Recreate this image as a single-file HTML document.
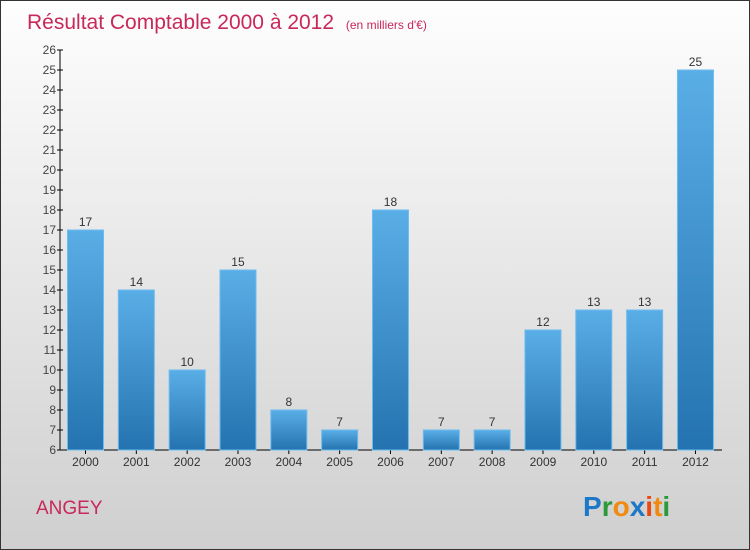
<!DOCTYPE html>
<html><head><meta charset="utf-8"><style>
body{margin:0;width:750px;height:550px;overflow:hidden;font-family:"Liberation Sans",sans-serif}
svg{display:block}
</style></head><body>
<svg id="chart" width="750" height="550" xmlns="http://www.w3.org/2000/svg">
<defs>
<linearGradient id="bg" x1="0" y1="0" x2="0" y2="1"><stop offset="0" stop-color="#fefefe"/><stop offset="1" stop-color="#cfcfcf"/></linearGradient>
<linearGradient id="bar" x1="0" y1="0" x2="0" y2="1"><stop offset="0" stop-color="#5aaee6"/><stop offset="1" stop-color="#2473b0"/></linearGradient>
</defs>
<rect x="0.5" y="0.5" width="749" height="549" fill="url(#bg)" stroke="#333"/>
<text x="27" y="29" font-size="21" fill="#c8285a">Résultat Comptable 2000 à 2012 <tspan font-size="12" dx="6">(en milliers d'€)</tspan></text>
<text x="36" y="514" font-size="19" fill="#c8285a">ANGEY</text>
<g font-size="28" font-weight="bold" font-family="Liberation Sans, sans-serif">
<text x="583" y="516"><tspan fill="#1e78c8">P</tspan><tspan fill="#2a9a3a">r</tspan><tspan fill="#f08a10">o</tspan><tspan fill="#1e78c8">x</tspan><tspan fill="#e84a10">i</tspan><tspan fill="#f08a10">t</tspan><tspan fill="#2a9a3a">i</tspan></text>
</g>
<g id="axes"></g>
<g id="bars"></g>
</svg>
<script>
const years=["2000","2001","2002","2003","2004","2005","2006","2007","2008","2009","2010","2011","2012"];
const values=[17,14,10,15,8,7,18,7,7,12,13,13,25];
const yTicks=[6,7,8,9,10,11,12,13,14,15,16,17,18,19,20,21,22,23,24,25,26];
(function(){
const NS="http://www.w3.org/2000/svg";
const yMin=6,yMax=26,plotTop=50,plotBottom=450,axisX=60;
function y(v){return plotBottom-(v-yMin)/(yMax-yMin)*(plotBottom-plotTop);}
const step=50.83,barW=36;
function xc(i){return 85.5+i*step;}
function mk(t,a,p){const e=document.createElementNS(NS,t);for(const k in a)e.setAttribute(k,a[k]);p.appendChild(e);return e;}
const ax=document.getElementById('axes'),bg=document.getElementById('bars');
const yl=mk('line',{x1:axisX,y1:plotTop,x2:axisX,y2:plotBottom,stroke:'#000'},ax);


const xl=mk('line',{x1:axisX,y1:plotBottom,x2:722,y2:plotBottom,stroke:'#000'},ax);


yTicks.forEach(v=>{
 const t=mk('line',{x1:axisX-3,y1:y(v),x2:axisX+3,y2:y(v),stroke:'#000'},ax);
 
 
 const l=mk('text',{x:axisX-4,y:y(v)+4,'font-size':12,fill:'#444','text-anchor':'end'},ax);
 l.textContent=v;
 
 
});
values.forEach((v,i)=>{
 const cx=xc(i);
 const r=mk('rect',{x:cx-barW/2,y:y(v),width:barW,height:plotBottom-y(v),fill:'url(#bar)',stroke:'#6cbcf0','stroke-width':1},bg);
 
 
 const vl=mk('text',{x:cx,y:y(v)-4,'font-size':12,fill:'#333','text-anchor':'middle'},bg);
 vl.textContent=v;
 
 
 const tk=mk('line',{x1:cx,y1:plotBottom,x2:cx,y2:plotBottom+4,stroke:'#000'},ax);
 
 
 const xl2=mk('text',{x:cx,y:plotBottom+16,'font-size':12,fill:'#333','text-anchor':'middle'},ax);
 xl2.textContent=years[i];
 
 
});
})();
</script>
</body></html>
